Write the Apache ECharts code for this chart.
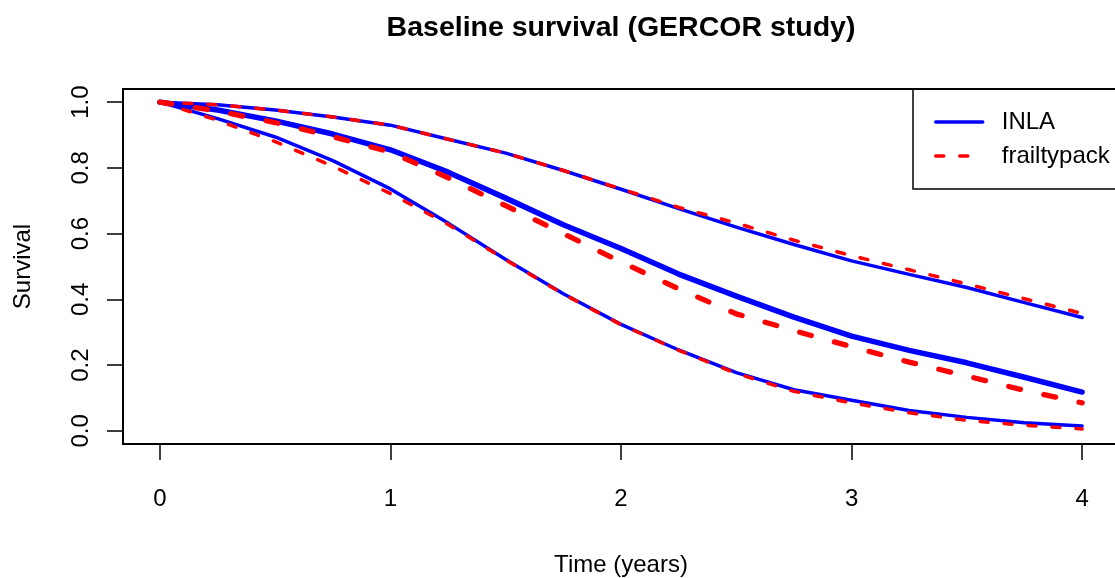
<!DOCTYPE html>
<html>
<head>
<meta charset="utf-8">
<script src="https://cdn.jsdelivr.net/npm/echarts@6/dist/echarts.min.js"></script>
<style>
html, body { margin: 0; padding: 0; background: #fff; }
#chart { width: 1115px; height: 578px; }
</style>
</head>
<body>
<div id="chart"></div>
<script>
// time grid (years) the curves were read at
var times = [0, 0.25, 0.5, 0.75, 1, 1.25, 1.5, 1.75, 2, 2.25, 2.5, 2.75, 3, 3.25, 3.5, 3.75, 4];

// INLA baseline survival, three curves
var inlaHigh = [1.0, 0.992, 0.976, 0.955, 0.93, 0.887, 0.845, 0.792, 0.735, 0.676, 0.62, 0.567, 0.517, 0.476, 0.436, 0.39, 0.345];
var inlaMid = [1.0, 0.976, 0.943, 0.903, 0.855, 0.787, 0.708, 0.627, 0.555, 0.477, 0.41, 0.346, 0.288, 0.245, 0.207, 0.163, 0.118];
var inlaLow = [1.0, 0.95, 0.894, 0.822, 0.736, 0.632, 0.521, 0.417, 0.324, 0.246, 0.177, 0.125, 0.093, 0.062, 0.041, 0.025, 0.015];

// frailtypack baseline survival, three curves
var frailHigh = [1.0, 0.992, 0.976, 0.955, 0.93, 0.887, 0.845, 0.792, 0.736, 0.68, 0.632, 0.58, 0.533, 0.49, 0.447, 0.402, 0.357];
var frailMid = [1.0, 0.973, 0.938, 0.895, 0.848, 0.77, 0.685, 0.6, 0.514, 0.432, 0.356, 0.305, 0.256, 0.209, 0.167, 0.123, 0.085];
var frailLow = [1.0, 0.945, 0.88, 0.805, 0.722, 0.628, 0.52, 0.416, 0.323, 0.245, 0.175, 0.12, 0.085, 0.055, 0.032, 0.017, 0.006];

var xTicks = [0, 1, 2, 3, 4];
var yTicks = [0, 0.2, 0.4, 0.6, 0.8, 1.0];

var font = "'Liberation Sans', Arial, sans-serif";

function curve(name, values, color, width, dash) {
    return {
        name: name,
        type: 'line',
        data: times.map(function (t, i) { return [t, values[i]]; }),
        symbol: 'none',
        showSymbol: false,
        animation: false,
        silent: true,
        itemStyle: { color: color },
        lineStyle: { color: color, width: width, type: dash || 'solid', cap: 'round', join: 'round' }
    };
}

var chart = echarts.init(document.getElementById('chart'));
var option = {
    backgroundColor: '#fff',
    animation: false,
    title: {
        text: 'Baseline survival (GERCOR study)',
        left: 616,
        textAlign: 'center',
        top: 9,
        textStyle: { fontFamily: font, fontSize: 28.5, fontWeight: 'bold', color: '#000' }
    },
    legend: {
        orient: 'vertical',
        left: 913,
        top: 89,
        padding: [16, 30, 16, 21],
        itemWidth: 47,
        itemHeight: 14,
        itemGap: 0,
        borderColor: '#000',
        borderWidth: 1.5,
        borderRadius: 0,
        data: ['INLA', 'frailtypack'],
        itemStyle: { opacity: 0 },
        lineStyle: { width: 3.5 },
        textStyle: { fontFamily: font, fontSize: 24, color: '#000', lineHeight: 34, padding: [0, 0, 0, 14] }
    },
    grid: {
        left: 123,
        top: 89,
        width: 996,
        height: 355,
        outerBoundsMode: 'none',
        containLabel: false,
        show: true,
        borderColor: '#000',
        borderWidth: 2,
        backgroundColor: 'transparent'
    },
    xAxis: {
        type: 'value',
        min: -0.16,
        max: 4.16,
        name: 'Time (years)',
        nameLocation: 'middle',
        nameGap: 109,
        nameTextStyle: { fontFamily: font, fontSize: 24, color: '#000' },
        axisLine: { show: false, onZero: false },
        splitLine: { show: false },
        axisTick: { show: true, inside: false, length: 16, customValues: xTicks, lineStyle: { color: '#000', width: 1.5 } },
        axisLabel: {
            customValues: xTicks,
            margin: 43,
            fontFamily: font, fontSize: 24, color: '#000',
            formatter: function (v) { return String(v); }
        }
    },
    yAxis: {
        type: 'value',
        min: -0.04,
        max: 1.04,
        name: 'Survival',
        nameLocation: 'middle',
        nameGap: 88,
        nameTextStyle: { fontFamily: font, fontSize: 24, color: '#000' },
        axisLine: { show: false, onZero: false },
        splitLine: { show: false },
        axisTick: { show: true, inside: false, length: 16, customValues: yTicks, lineStyle: { color: '#000', width: 1.5 } },
        axisLabel: {
            customValues: yTicks,
            rotate: 90,
            margin: 30,
            fontFamily: font, fontSize: 24, color: '#000',
            formatter: function (v) { return v.toFixed(1); }
        }
    },
    series: [
        curve('INLA', inlaHigh, '#0000ff', 3.5),
        curve('INLA', inlaMid, '#0000ff', 5.5),
        curve('INLA', inlaLow, '#0000ff', 3.5),
        curve('frailtypack', frailHigh, '#ff0000', 3.5, [8, 16]),
        curve('frailtypack', frailMid, '#ff0000', 5.3, [12, 24]),
        curve('frailtypack', frailLow, '#ff0000', 3.5, [8, 16])
    ]
};
chart.setOption(option);
</script>
</body>
</html>
